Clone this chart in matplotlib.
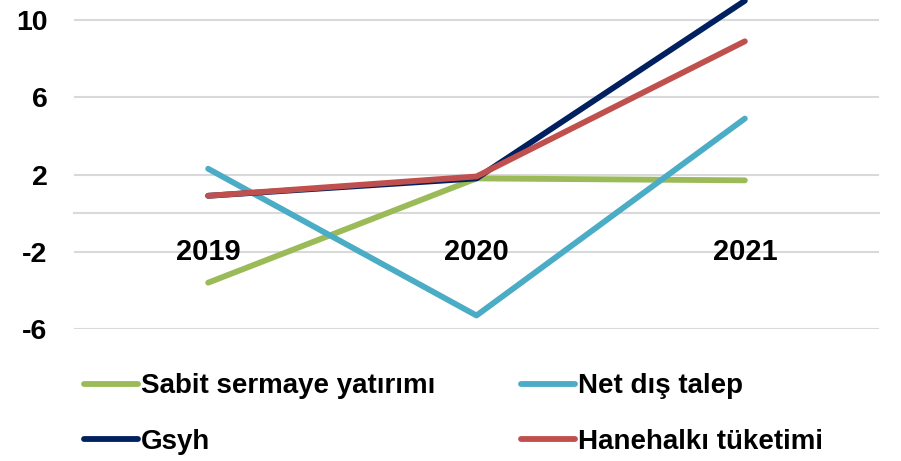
import matplotlib.pyplot as plt

years = ["2019", "2020", "2021"]
sabit = [-3.6, 1.8, 1.7]
net_dis = [2.3, -5.3, 4.9]
gsyh = [0.9, 1.8, 11.0]
hanehalki = [0.9, 1.9, 8.9]

plt.rcParams['font.family'] = ['Liberation Sans', 'DejaVu Sans']
plt.rcParams['font.weight'] = 'bold'

fig = plt.figure(figsize=(9.01, 4.61), dpi=100)
ax = fig.add_axes([0.0821, 0.2863, 0.8935, 0.7137])

x = range(len(years))
lw = 4.2
l_sabit, = ax.plot(x, sabit, color='#9BBB59', lw=lw, solid_capstyle='round', label="Sabit sermaye yatırımı", clip_on=False, zorder=3)
l_net, = ax.plot(x, net_dis, color='#4BACC6', lw=lw, solid_capstyle='round', label="Net dış talep", clip_on=False, zorder=4)
l_gsyh, = ax.plot(x, gsyh, color='#002060', lw=lw, solid_capstyle='round', label="Gsyh", clip_on=False, zorder=5)
l_hane, = ax.plot(x, hanehalki, color='#C0504D', lw=lw, solid_capstyle='round', label="Hanehalkı tüketimi", clip_on=False, zorder=6)

ax.set_xlim(-0.5, 2.5)
ax.set_ylim(-6, 11.04)
ax.set_yticks([-6, -2, 2, 6, 10])
ax.set_yticklabels(["-6", "-2", "2", "6", "10"])
ax.grid(axis='y', color='#d9d9d9', lw=1.5, zorder=0)
ax.set_axisbelow(True)

ax.set_xticks(list(x))
ax.set_xticklabels(years)
ax.spines['bottom'].set_position(('data', 0))
ax.spines['bottom'].set_color('#d9d9d9')
ax.spines['bottom'].set_linewidth(1.5)
for s in ['top', 'left', 'right']:
    ax.spines[s].set_visible(False)
ax.tick_params(axis='x', length=0, pad=18, labelsize=21)
ax.tick_params(axis='y', length=0, pad=19, labelsize=20.5)
# year labels sit on top of the gridlines
ax.xaxis.set_zorder(1)

fig.legend([l_sabit, l_gsyh, l_net, l_hane],
           ["Sabit sermaye yatırımı", "Gsyh", "Net dış talep", "Hanehalkı tüketimi"],
           ncol=2, loc='upper left', bbox_to_anchor=(0.093, 0.19),
           frameon=False, fontsize=20, handlelength=1.95, handletextpad=0.1,
           columnspacing=3.1, labelspacing=1.05, borderaxespad=0, borderpad=0)

fig.savefig("out.png", dpi=100)
